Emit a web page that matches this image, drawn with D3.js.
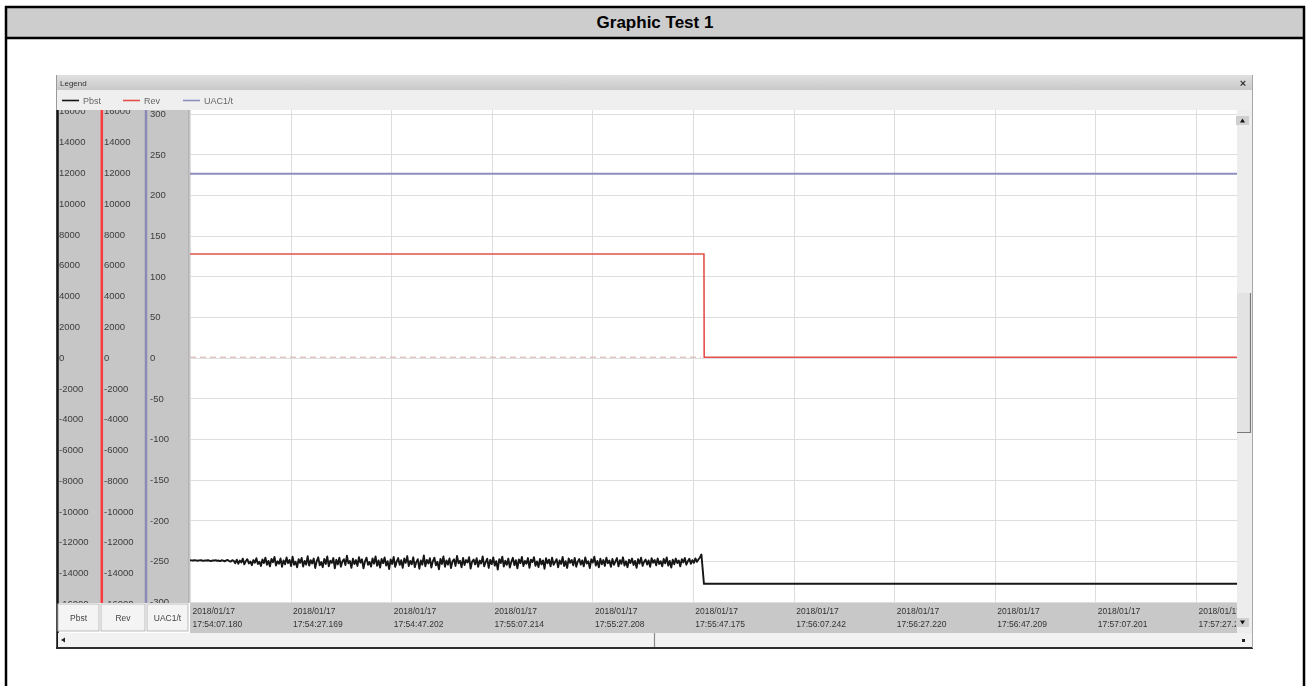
<!DOCTYPE html>
<html>
<head>
<meta charset="utf-8">
<script src="https://cdn.jsdelivr.net/npm/d3@7"></script>
<style>
  body { margin: 0; background: #fff; }
  svg { display: block; font-family: "Liberation Sans", Arial, sans-serif; }
</style>
</head>
<body>
<svg id="chart" width="1306" height="686"></svg>
<script>
// ---- chart content -------------------------------------------------------
const pageTitle = "Graphic Test 1";
const legendTitle = "Legend";
const seriesNames = ["Pbst", "Rev", "UAC1/t"];
const seriesColors = ["#151515", "#e4504a", "#8e8ebf"];

const startStamp = "2018/01/17 17:54:07.180";
const viewSeconds = 208.2;
const timeTickLabels = [
  "2018/01/17 17:54:07.180", "2018/01/17 17:54:27.169", "2018/01/17 17:54:47.202",
  "2018/01/17 17:55:07.214", "2018/01/17 17:55:27.208", "2018/01/17 17:55:47.175",
  "2018/01/17 17:56:07.242", "2018/01/17 17:56:27.220", "2018/01/17 17:56:47.209",
  "2018/01/17 17:57:07.201", "2018/01/17 17:57:27.213"
];

const powerTicks = [16000, 14000, 12000, 10000, 8000, 6000, 4000, 2000, 0,
  -2000, -4000, -6000, -8000, -10000, -12000, -14000, -16000];
const voltTicks = [300, 250, 200, 150, 100, 50, 0, -50, -100, -150, -200, -250, -300];

// Pbst logged every 0.3 s until the step, then steady
const pbstSampleSec = 0.3;
const pbstSamples = [
  -13190,-13200,-13210,-13190,-13200,-13220,-13200,-13190,-13210,-13230,
  -13200,-13210,-13190,-13220,-13240,-13200,-13210,-13180,-13230,-13210,
  -13250,-13190,-13220,-13260,-13200,-13170,-13240,-13280,-13190,-13230,
  -13380,-13150,-13420,-13210,-13330,-13090,-13460,-13240,-13120,-13400,
  -13270,-13510,-13180,-13350,-13060,-13440,-13290,-13560,-13140,-13370,
  -13020,-13480,-13230,-13590,-13110,-13320,-12980,-13530,-13260,-13410,
  -13070,-13620,-13200,-13450,-13010,-13380,-13170,-13570,-12960,-13490,
  -13280,-13650,-13120,-13360,-13040,-13600,-13230,-13470,-12930,-13540,
  -13190,-13400,-13080,-13690,-13250,-13000,-13520,-13310,-13640,-13100,
  -13430,-12950,-13580,-13220,-13360,-13050,-13710,-13160,-13460,-13030,
  -13610,-13270,-13120,-13500,-12900,-13390,-13240,-13680,-13090,-13440,
  -13180,-13560,-12990,-13350,-13130,-13720,-13260,-13020,-13480,-13300,
  -13600,-13070,-13410,-12940,-13550,-13200,-13660,-13110,-13380,-13010,
  -13530,-13250,-13760,-13140,-13430,-12970,-13620,-13280,-13050,-13490,
  -13190,-13690,-13080,-13360,-12920,-13570,-13230,-13450,-13000,-13640,
  -13310,-13120,-13740,-13210,-13480,-12880,-13590,-13170,-13400,-13060,
  -13670,-13240,-13020,-13520,-13290,-13780,-13100,-13430,-12950,-13610,
  -13200,-13470,-13070,-13700,-13260,-13130,-13560,-12910,-13390,-13230,
  -13650,-13040,-13500,-13180,-13330,-12990,-13730,-13280,-13150,-13460,
  -13060,-13620,-13210,-13400,-12940,-13580,-13320,-13090,-13690,-13170,
  -13440,-13010,-13540,-13250,-13800,-13120,-13370,-12960,-13600,-13220,
  -13490,-13080,-13660,-13290,-13030,-13510,-13190,-13720,-13140,-13380,
  -12970,-13570,-13240,-13420,-13050,-13680,-13160,-13310,-12990,-13550,
  -13270,-13630,-13100,-13460,-13200,-13740,-13060,-13390,-13150,-13590,
  -13020,-13480,-13300,-13120,-13650,-13210,-13430,-12980,-13570,-13250,
  -13690,-13080,-13360,-13170,-13520,-13040,-13610,-13280,-13110,-13470,
  -13200,-13580,-13010,-13400,-13260,-13700,-13130,-13340,-12960,-13530,
  -13240,-13650,-13090,-13450,-13180,-13560,-13030,-13380,-13210,-13620,
  -13110,-13490,-13270,-13050,-13590,-13190,-13420,-13000,-13530,-13260,
  -13640,-13150,-13370,-13080,-13500,-13230,-13680,-13120,-13410,-13020,
  -13560,-13290,-13140,-13470,-13200,-13610,-13060,-13350,-13180,-13520,
  -13070,-13430,-13250,-13580,-13110,-13390,-13010,-13540,-13230,-13660,
  -13160,-13450,-13080,-13370,-13210,-13590,-13120,-13330,-13040,-13480,
  -13260,-13100,-13420,-13190,-13360,-13070,-13290,-13140,-13010,-12820
];
const pbstAfterStep = [[102.2, -14720], [208.2, -14720]];   // [seconds, value]
const revPoints = [[0, 6700], [102.2, 6700], [102.25, 0], [208.2, 0]];
const revZeroTrace = [[0, 0], [101.6, 0]];
const uacPoints = [[0, 226], [208.2, 226]];

// ---- layout --------------------------------------------------------------
const svg = d3.select("#chart");
const parseStamp = d3.timeParse("%Y/%m/%d %H:%M:%S.%L");
const t0 = parseStamp(startStamp);
const at = s => new Date(t0.getTime() + s * 1000);

const plot = { left: 190, right: 1237, top: 110, bottom: 603 };

const x = d3.scaleTime().domain([t0, at(viewSeconds)]).range([plot.left, plot.right]);
const yPower = d3.scaleLinear().domain([-16000, 16000]).range([603.5, 110.9]);
const yVolt = d3.scaleLinear().domain([-300, 300]).range([601.5, 113.5]);

const defs = svg.append("defs");
defs.append("filter").attr("id", "soft")
  .attr("x", "-1%").attr("y", "-1%").attr("width", "102%").attr("height", "102%")
  .append("feGaussianBlur").attr("stdDeviation", 0.55);
defs.append("clipPath").attr("id", "plotClip").append("rect")
  .attr("x", plot.left).attr("y", plot.top)
  .attr("width", plot.right - plot.left).attr("height", plot.bottom - plot.top);
defs.append("clipPath").attr("id", "stripClip").append("rect")
  .attr("x", 56).attr("y", plot.top).attr("width", 134).attr("height", plot.bottom - plot.top);
defs.append("clipPath").attr("id", "timeClip").append("rect")
  .attr("x", plot.left).attr("y", plot.bottom).attr("width", plot.right - plot.left).attr("height", 30);
const barGrad = defs.append("linearGradient").attr("id", "barGrad")
  .attr("x1", 0).attr("y1", 0).attr("x2", 0).attr("y2", 1);
barGrad.append("stop").attr("offset", "0%").attr("stop-color", "#e0e0e0");
barGrad.append("stop").attr("offset", "100%").attr("stop-color", "#c9c9c9");

// ---- page frame with title row ------------------------------------------
svg.append("rect").attr("x", 6).attr("y", 7).attr("width", 1298).attr("height", 31).attr("fill", "#cdcdcd");
const frame = svg.append("g").attr("stroke", "#000").attr("stroke-width", 2.5).attr("fill", "none");
frame.append("line").attr("x1", 5).attr("x2", 1305).attr("y1", 7).attr("y2", 7);
frame.append("line").attr("x1", 5).attr("x2", 1305).attr("y1", 38).attr("y2", 38);
frame.append("line").attr("x1", 6).attr("x2", 6).attr("y1", 6).attr("y2", 686);
frame.append("line").attr("x1", 1304).attr("x2", 1304).attr("y1", 6).attr("y2", 686);
svg.append("text").attr("x", 655).attr("y", 28).attr("text-anchor", "middle")
  .attr("font-size", 17).attr("font-weight", "bold").attr("fill", "#000").text(pageTitle);

// ---- trend window --------------------------------------------------------
const shot = svg.append("g").attr("filter", "url(#soft)");

// legend title bar and legend row
shot.append("rect").attr("x", 56).attr("y", 75).attr("width", 1197).attr("height", 15).attr("fill", "url(#barGrad)");
shot.append("text").attr("x", 60).attr("y", 86).attr("font-size", 8).attr("fill", "#333").text(legendTitle);
shot.append("text").attr("x", 1243).attr("y", 86.5).attr("text-anchor", "middle")
  .attr("font-size", 11).attr("font-weight", "bold").attr("fill", "#333").text("\u00d7");
shot.append("rect").attr("x", 56).attr("y", 90).attr("width", 1197).attr("height", 20).attr("fill", "#efefef");
const legendX = [62, 123, 183];
seriesNames.forEach((name, i) => {
  shot.append("line").attr("x1", legendX[i]).attr("x2", legendX[i] + 17)
    .attr("y1", 100.5).attr("y2", 100.5).attr("stroke", seriesColors[i]).attr("stroke-width", 1.6);
  shot.append("text").attr("x", legendX[i] + 21).attr("y", 104).attr("font-size", 9)
    .attr("fill", "#666").text(name);
});

// axis strips
shot.append("rect").attr("x", 56).attr("y", plot.top).attr("width", 134)
  .attr("height", plot.bottom - plot.top).attr("fill", "#c6c6c6");

const strips = shot.append("g").attr("clip-path", "url(#stripClip)");
const stripAxes = [
  { x: 59, scale: yPower, ticks: powerTicks },
  { x: 104, scale: yPower, ticks: powerTicks },
  { x: 150, scale: yVolt, ticks: voltTicks }
];
stripAxes.forEach(a => {
  const g = strips.append("g").attr("transform", `translate(${a.x},0)`)
    .call(d3.axisRight(a.scale).tickValues(a.ticks).tickSize(0).tickPadding(0).tickFormat(d => String(d)));
  g.select(".domain").remove();
  g.selectAll("text").attr("font-size", 9.5).attr("fill", "#3c3c3c")
    .attr("font-family", "Liberation Sans, Arial, sans-serif");
});
// coloured axis rules
shot.append("line").attr("x1", 57.5).attr("x2", 57.5).attr("y1", plot.top).attr("y2", 648)
  .attr("stroke", seriesColors[0]).attr("stroke-width", 2.5);
shot.append("line").attr("x1", 101.8).attr("x2", 101.8).attr("y1", plot.top).attr("y2", plot.bottom)
  .attr("stroke", "#ff3a3a").attr("stroke-width", 2.5);
shot.append("line").attr("x1", 146).attr("x2", 146).attr("y1", plot.top).attr("y2", plot.bottom)
  .attr("stroke", "#8a8ab6").attr("stroke-width", 2.5);
shot.append("line").attr("x1", 188.5).attr("x2", 188.5).attr("y1", plot.top).attr("y2", plot.bottom)
  .attr("stroke", "#b4b4b4").attr("stroke-width", 1);

// plot area and grid
shot.append("rect").attr("x", plot.left).attr("y", plot.top)
  .attr("width", plot.right - plot.left).attr("height", plot.bottom - plot.top).attr("fill", "#fff");
const tickDates = timeTickLabels.map(parseStamp);
const grid = shot.append("g").attr("clip-path", "url(#plotClip)")
  .attr("stroke", "#dedede").attr("stroke-width", 1);
grid.selectAll("line.v").data(tickDates).join("line").attr("class", "v")
  .attr("x1", d => Math.round(x(d)) + 0.5).attr("x2", d => Math.round(x(d)) + 0.5)
  .attr("y1", plot.top).attr("y2", plot.bottom);
grid.selectAll("line.h").data(voltTicks).join("line").attr("class", "h")
  .attr("x1", plot.left).attr("x2", plot.right)
  .attr("y1", d => Math.round(yVolt(d)) + 0.5).attr("y2", d => Math.round(yVolt(d)) + 0.5);

// series
const marks = shot.append("g").attr("clip-path", "url(#plotClip)").attr("fill", "none");
const lineSec = scale => d3.line().x(d => x(at(d[0]))).y(d => scale(d[1]));

marks.append("path").datum(revZeroTrace).attr("d", lineSec(yPower))
  .attr("stroke", "#d8aaa6").attr("stroke-width", 1).attr("stroke-dasharray", "6,4");
marks.append("path").datum(uacPoints).attr("d", lineSec(yVolt))
  .attr("stroke", seriesColors[2]).attr("stroke-width", 2);
marks.append("path").datum(revPoints).attr("d", lineSec(yPower))
  .attr("stroke", seriesColors[1]).attr("stroke-width", 1.6);
const pbstSeries = pbstSamples.map((v, i) => [i * pbstSampleSec, v]).concat(pbstAfterStep);
marks.append("path").datum(pbstSeries).attr("d", lineSec(yPower))
  .attr("stroke", seriesColors[0]).attr("stroke-width", 1.9).attr("stroke-linejoin", "round");

// time axis band
shot.append("rect").attr("x", plot.left).attr("y", plot.bottom)
  .attr("width", plot.right - plot.left).attr("height", 30).attr("fill", "#c8c8c8");
const dayFmt = d3.timeFormat("%Y/%m/%d");
const clockFmt = d3.timeFormat("%H:%M:%S.%L");
const timeAxis = shot.append("g").attr("clip-path", "url(#timeClip)")
  .append("g").attr("transform", `translate(0,${plot.bottom})`)
  .call(d3.axisBottom(x).tickValues(tickDates).tickSize(0).tickFormat(() => ""));
timeAxis.select(".domain").remove();
timeAxis.selectAll(".tick text").each(function (d) {
  const t = d3.select(this).attr("text-anchor", "start").attr("y", 0).attr("dy", null)
    .attr("font-size", 8.5).attr("fill", "#333").attr("font-family", "Liberation Sans, Arial, sans-serif");
  t.append("tspan").attr("x", 2).attr("y", 11).text(dayFmt(d));
  t.append("tspan").attr("x", 2).attr("y", 24).text(clockFmt(d));
});

// axis selector buttons
const buttons = [[58, 99], [101, 145], [147, 188]];
seriesNames.forEach((name, i) => {
  const [b0, b1] = buttons[i];
  shot.append("rect").attr("x", b0).attr("y", 604).attr("width", b1 - b0).attr("height", 27)
    .attr("fill", "#f4f4f4").attr("stroke", "#bdbdbd").attr("stroke-width", 1);
  shot.append("text").attr("x", (b0 + b1) / 2).attr("y", 621).attr("text-anchor", "middle")
    .attr("font-size", 8.5).attr("fill", "#444").text(name);
});

// scroll bars
shot.append("rect").attr("x", 58).attr("y", 633).attr("width", 1194).attr("height", 14).attr("fill", "#f2f2f2");
shot.append("line").attr("x1", 654.5).attr("x2", 654.5).attr("y1", 633).attr("y2", 647)
  .attr("stroke", "#8a8a8a").attr("stroke-width", 1.2);
shot.append("path").attr("d", "M61,640 L65,637.5 L65,642.5 Z").attr("fill", "#222");
shot.append("rect").attr("x", 1242).attr("y", 639).attr("width", 3).attr("height", 3).attr("fill", "#222");

shot.append("rect").attr("x", 1237).attr("y", plot.top).attr("width", 15).attr("height", 523).attr("fill", "#ededed");
shot.append("rect").attr("x", 1237).attr("y", 293).attr("width", 13).attr("height", 140)
  .attr("fill", "#e3e3e3");
shot.append("path").attr("d", "M1250.5,293 V432.5 H1237").attr("fill", "none")
  .attr("stroke", "#7a7a7a").attr("stroke-width", 1.2);
shot.append("rect").attr("x", 1236).attr("y", 116).attr("width", 13).attr("height", 9).attr("fill", "#cfcfcf");
shot.append("path").attr("d", "M1240,122.5 L1245,122.5 L1242.5,118.5 Z").attr("fill", "#111");
shot.append("rect").attr("x", 1236).attr("y", 618).attr("width", 13).attr("height", 9).attr("fill", "#cfcfcf");
shot.append("path").attr("d", "M1240,620.5 L1245,620.5 L1242.5,624.5 Z").attr("fill", "#111");

// window edges
shot.append("line").attr("x1", 56).attr("x2", 1253).attr("y1", 648).attr("y2", 648)
  .attr("stroke", "#2e2e2e").attr("stroke-width", 2);
shot.append("line").attr("x1", 1252.5).attr("x2", 1252.5).attr("y1", 75).attr("y2", 648)
  .attr("stroke", "#a8a8a8").attr("stroke-width", 1);
shot.append("line").attr("x1", 56.5).attr("x2", 56.5).attr("y1", 75).attr("y2", 110)
  .attr("stroke", "#9a9a9a").attr("stroke-width", 1);
</script>
</body>
</html>
